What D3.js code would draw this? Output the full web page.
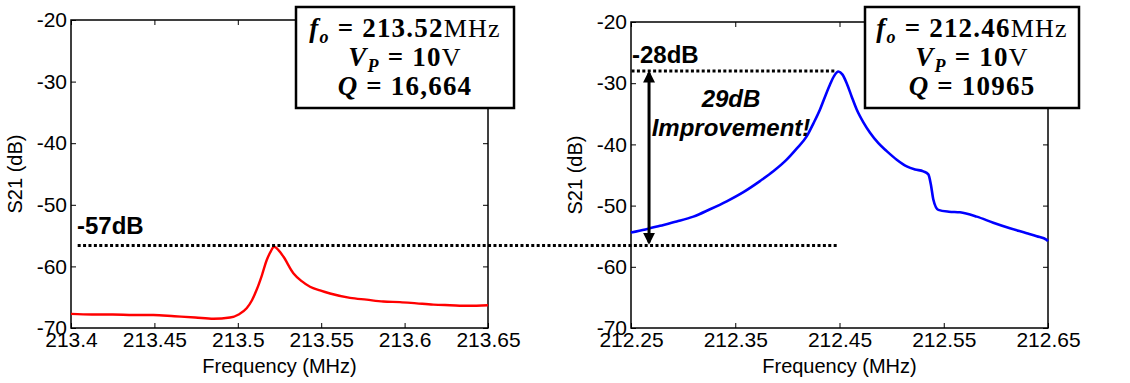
<!DOCTYPE html>
<html>
<head>
<meta charset="utf-8">
<script src="https://cdn.jsdelivr.net/npm/d3@7"></script>
<style>
  body { margin: 0; background: #fff; }
  svg { display: block; }
  .tick text { font-family: "Liberation Sans", Arial, sans-serif; font-size: 21px; fill: #000; }
  .tick line { stroke: #000; }
</style>
</head>
<body>
<svg id="svg" width="1130" height="383"></svg>
<script>
let redFreq = [213.4, 213.4125, 213.425, 213.4375, 213.4494, 213.462, 213.4745, 213.4854, 213.4953, 213.5005, 213.5053,
    213.5085, 213.5113, 213.5145, 213.5173, 213.5197, 213.5217, 213.5245, 213.5273, 213.5333, 213.5383, 213.5433,
    213.5493, 213.5553, 213.5673, 213.5772, 213.5872, 213.5972, 213.6072, 213.6172, 213.6272, 213.6382, 213.65];
let redS21 = [-67.7, -67.8, -67.8, -67.9, -67.9, -68.1, -68.3, -68.5, -68.3, -67.8, -66.8,
    -65.5, -63.8, -61.4, -59.0, -57.6, -56.8, -57.4, -58.4, -61.1, -62.4, -63.3,
    -63.9, -64.4, -65.1, -65.4, -65.7, -65.8, -66.0, -66.2, -66.3, -66.4, -66.3];

let blueFreq = [212.25, 212.2638, 212.2778, 212.2938, 212.3098, 212.3258, 212.3418, 212.3578, 212.3737, 212.3865, 212.3993,
    212.4089, 212.4185, 212.4249, 212.4313, 212.4361, 212.4409, 212.4449, 212.4489, 212.4529, 212.4569, 212.4617,
    212.4665, 212.4729, 212.4793, 212.4873, 212.4953, 212.5049, 212.5145, 212.5225, 212.5304, 212.5352, 212.5376,
    212.54, 212.5448, 212.555, 212.5656, 212.5816, 212.5975, 212.6135, 212.6296, 212.6392, 212.6488, 212.65];
let blueS21 = [-54.4, -53.9, -53.3, -52.6, -51.8, -50.6, -49.3, -47.8, -46.0, -44.4, -42.5,
    -40.7, -38.7, -36.6, -34.3, -32.2, -30.2, -28.8, -28.1, -28.6, -30.0, -32.2,
    -34.3, -36.4, -38.1, -39.8, -41.1, -42.5, -43.6, -44.1, -44.4, -44.9, -46.5,
    -49.0, -50.7, -51.0, -51.1, -51.8, -52.8, -53.7, -54.5, -55.0, -55.6, -55.8];

// tick labels
let leftTicks = [213.4, 213.45, 213.5, 213.55, 213.6, 213.65];
let rightTicks = [212.25, 212.35, 212.45, 212.55, 212.65];
let yTicks = [-70, -60, -50, -40, -30, -20];

// annotation values
let baseLevel = -56.6;   // -57dB line (old device peak)
let peakLevel = -28;     // -28dB line (new device peak)

let svg = d3.select("#svg");
let font = '"Liberation Sans", Arial, sans-serif';

//Scales for both panels
let xLeft = d3.scaleLinear().domain([213.4, 213.65]).range([71, 488]);
let yLeft = d3.scaleLinear().domain([-70, -20]).range([328, 20]);
let xRight = d3.scaleLinear().domain([212.25, 212.65]).range([631, 1048]);
let yRight = d3.scaleLinear().domain([-70, -20]).range([328, 22]);

function drawPanel(x, y, ticks, freq, s21, colour, width) {
    let g = svg.append("g");
    let [x0, x1] = x.range();
    let [y1, y0] = y.range();

    //MATLAB style inward ticks on all four sides
    g.append("g").attr("transform", `translate(0,${y1})`)
        .call(d3.axisBottom(x).tickValues(ticks).tickFormat(d => d).tickSizeInner(-5).tickSizeOuter(0).tickPadding(4))
        .call(a => a.select(".domain").remove());
    g.append("g").attr("transform", `translate(0,${y0})`)
        .call(d3.axisTop(x).tickValues(ticks).tickFormat("").tickSizeInner(-5).tickSizeOuter(0))
        .call(a => a.select(".domain").remove());
    g.append("g").attr("transform", `translate(${x0},0)`)
        .call(d3.axisLeft(y).tickValues(yTicks).tickFormat(d => d).tickSizeInner(-5).tickSizeOuter(0).tickPadding(4))
        .call(a => a.select(".domain").remove());
    g.append("g").attr("transform", `translate(${x1},0)`)
        .call(d3.axisRight(y).tickValues(yTicks).tickFormat("").tickSizeInner(-5).tickSizeOuter(0))
        .call(a => a.select(".domain").remove());

    g.append("rect")
        .attr("x", x0).attr("y", y0)
        .attr("width", x1 - x0).attr("height", y1 - y0)
        .attr("fill", "none").attr("stroke", "#000").attr("stroke-width", 1.5);

    //the measured curve
    let line = d3.line().x(d => x(d[0])).y(d => y(d[1])).curve(d3.curveMonotoneX);
    g.append("path")
        .datum(freq.map((f, i) => [f, s21[i]]))
        .attr("d", line)
        .attr("fill", "none")
        .attr("stroke", colour)
        .attr("stroke-width", width)
        .attr("stroke-linejoin", "round");

    //axis labels
    g.append("text")
        .attr("x", (x0 + x1) / 2).attr("y", 373)
        .attr("text-anchor", "middle")
        .style("font-family", font).style("font-size", "20px")
        .text("Frequency (MHz)");
    g.append("text")
        .attr("transform", `translate(${x0 - 49},${(y0 + y1) / 2}) rotate(-90)`)
        .attr("text-anchor", "middle")
        .style("font-family", font).style("font-size", "20px")
        .text("S21 (dB)");
    return g;
}

drawPanel(xLeft, yLeft, leftTicks, redFreq, redS21, "#ff0000", 2.4);
drawPanel(xRight, yRight, rightTicks, blueFreq, blueS21, "#0000ff", 2.6);

//Info boxes in the top right corner of each panel
function infoBox(x, w, f0, q) {
    let g = svg.append("g");
    g.append("rect")
        .attr("x", x).attr("y", 7).attr("width", w).attr("height", 101)
        .attr("fill", "#fff").attr("stroke", "#000").attr("stroke-width", 2.5);
    let rows = [
        [["f", "italic"], ["o", "sub"], [" = " + f0, "normal"], ["MHz", "plain"]],
        [["V", "italic"], ["P", "sub"], [" = 10", "normal"], ["V", "plain"]],
        [["Q", "italic"], [" = " + q, "normal"]]
    ];
    let baselines = [37, 66, 95];
    rows.forEach((row, i) => {
        let t = g.append("text")
            .attr("x", x + w / 2).attr("y", baselines[i])
            .attr("text-anchor", "middle")
            .style("font-family", '"Liberation Serif", "DejaVu Serif", serif')
            .style("font-size", "27px")
            .style("letter-spacing", "1.2px")
            .style("font-weight", "bold");
        row.forEach(([s, kind]) => {
            let sp = t.append("tspan").text(s);
            if (kind == "italic") sp.style("font-style", "italic");
            if (kind == "sub") sp.style("font-style", "italic").style("font-size", "18px").attr("dy", 6);
            if (kind == "normal" && row[1][1] == "sub") sp.attr("dy", -6);
            if (kind == "plain") sp.style("font-weight", "normal").style("font-size", "26px");
        });
    });
}
infoBox(296, 218, "213.52", "16,664");
infoBox(865, 214, "212.46", "10965");

//Dotted reference lines
svg.append("line")
    .attr("x1", xLeft(213.404)).attr("x2", xRight(212.448))
    .attr("y1", yLeft(baseLevel)).attr("y2", yLeft(baseLevel))
    .attr("stroke", "#000").attr("stroke-width", 3).attr("stroke-dasharray", "3,2.4");
svg.append("line")
    .attr("x1", xRight(212.2505)).attr("x2", xRight(212.447))
    .attr("y1", yRight(peakLevel)).attr("y2", yRight(peakLevel))
    .attr("stroke", "#000").attr("stroke-width", 3).attr("stroke-dasharray", "3,2.4");

//Double headed arrow showing the improvement
let defs = svg.append("defs");
defs.append("marker")
    .attr("id", "head")
    .attr("viewBox", "0 0 10 10")
    .attr("refX", 8).attr("refY", 5)
    .attr("markerWidth", 4).attr("markerHeight", 4)
    .attr("orient", "auto-start-reverse")
    .append("path").attr("d", "M0,0 L10,5 L0,10 z").attr("fill", "#000");

let arrowX = xRight(212.2673);
svg.append("line")
    .attr("x1", arrowX).attr("x2", arrowX)
    .attr("y1", yRight(peakLevel) + 2).attr("y2", yLeft(baseLevel) - 3)
    .attr("stroke", "#000").attr("stroke-width", 3)
    .attr("marker-start", "url(#head)").attr("marker-end", "url(#head)");

//Annotation texts
let notes = [
    {x: 77, y: 234, t: "-57dB", style: "normal", anchor: "start"},
    {x: 632, y: 63, t: "-28dB", style: "normal", anchor: "start"},
    {x: 731, y: 107, t: "29dB", style: "italic", anchor: "middle"},
    {x: 731, y: 136, t: "Improvement!", style: "italic", anchor: "middle"}
];
notes.forEach(n => {
    svg.append("text")
        .attr("x", n.x).attr("y", n.y)
        .attr("text-anchor", n.anchor)
        .style("font-family", font).style("font-size", "24px")
        .style("font-weight", "bold").style("font-style", n.style)
        .text(n.t);
});
</script>
</body>
</html>
